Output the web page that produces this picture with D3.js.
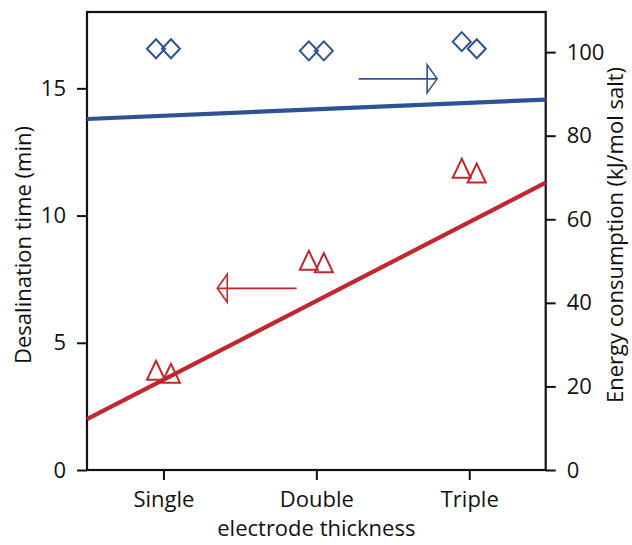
<!DOCTYPE html>
<html>
<head>
<meta charset="utf-8">
<script src="https://cdn.jsdelivr.net/npm/d3@7"></script>
<style>
  html, body { margin: 0; padding: 0; background: #fff; }
  svg { display: block; }
  text { font-family: "Open Sans", "Noto Sans", sans-serif; fill: #111; }
</style>
</head>
<body>
<svg id="chart" width="632" height="545"></svg>
<script>
// Electrode thickness categories
const categories = ["Single", "Double", "Triple"];

// Desalination time (min), two replicates per thickness — left axis
const timeRep1 = [3.92, 8.24, 11.86];
const timeRep2 = [3.80, 8.15, 11.67];

// Energy consumption (kJ/mol salt), two replicates per thickness — right axis
const energyRep1 = [100.8, 100.3, 102.5];
const energyRep2 = [100.8, 100.3, 100.8];

// Trend lines, value at each end of the category span (index -0.5 and 2.5)
const timeTrend = [2.0, 11.29];
const energyTrend = [84.0, 88.65];

// Tick values
const timeTicks = [0, 5, 10, 15];
const energyTicks = [0, 20, 40, 60, 80, 100];

// Arrow annotations pointing at the axis each series belongs to: [fromIndex, toIndex, value]
const timeArrow = [0.871, 0.352, 7.14];
const energyArrow = [1.277, 1.79, 93.6];

const blue = "#2d5394";
const red = "#c1272d";

const svg = d3.select("#chart");
const plotL = 87, plotR = 545.7, plotT = 12, plotB = 470;

const x = d3.scaleLinear().domain([-0.5, categories.length - 0.5]).range([plotL, plotR]);
const yTime = d3.scaleLinear().domain([0, 18]).range([plotB, plotT]);
const yEnergy = d3.scaleLinear().domain([0, 109.6]).range([plotB, plotT]);

const repOffset = 7.5; // horizontal spread of the two replicates (px)

// Axes
const fontSize = 22;
function styleAxis(g) {
  g.select(".domain").remove();
  g.selectAll(".tick line").attr("stroke", "#111").attr("stroke-width", 2);
  g.selectAll(".tick text").style("font-size", fontSize + "px");
}

svg.append("g")
  .attr("transform", `translate(${plotL},0)`)
  .call(d3.axisLeft(yTime).tickValues(timeTicks).tickSize(10).tickPadding(11))
  .call(styleAxis);

svg.append("g")
  .attr("transform", `translate(${plotR},0)`)
  .call(d3.axisRight(yEnergy).tickValues(energyTicks).tickSize(10).tickPadding(11))
  .call(styleAxis);

svg.append("g")
  .attr("transform", `translate(0,${plotB})`)
  .call(d3.axisBottom(x).tickValues(d3.range(categories.length))
    .tickFormat(i => categories[i]).tickSize(10).tickPadding(11))
  .call(styleAxis);

// Frame
svg.append("rect")
  .attr("x", plotL).attr("y", plotT)
  .attr("width", plotR - plotL).attr("height", plotB - plotT)
  .attr("fill", "none").attr("stroke", "#111").attr("stroke-width", 2.2);

// Trend lines
const xEnds = x.domain();
svg.append("line")
  .attr("x1", x(xEnds[0])).attr("y1", yEnergy(energyTrend[0]))
  .attr("x2", x(xEnds[1])).attr("y2", yEnergy(energyTrend[1]))
  .attr("stroke", blue).attr("stroke-width", 4.2);
svg.append("line")
  .attr("x1", x(xEnds[0])).attr("y1", yTime(timeTrend[0]))
  .attr("x2", x(xEnds[1])).attr("y2", yTime(timeTrend[1]))
  .attr("stroke", red).attr("stroke-width", 4.2);

// Markers
const mw = 18, mh = 19;
const diamond = `M0,${-mh/2}L${mw/2},0L0,${mh/2}L${-mw/2},0Z`;
const triangle = `M0,${-mh/2}L${mw/2},${mh/2}L${-mw/2},${mh/2}Z`;

function points(values, offset, yScale, path, color) {
  svg.append("g").selectAll("path")
    .data(values)
    .join("path")
    .attr("transform", (d, i) => `translate(${x(i) + offset},${yScale(d)})`)
    .attr("d", path)
    .attr("fill", "none")
    .attr("stroke", color)
    .attr("stroke-width", 2);
}
points(energyRep1, -repOffset, yEnergy, diamond, blue);
points(energyRep2, repOffset, yEnergy, diamond, blue);
points(timeRep1, -repOffset, yTime, triangle, red);
points(timeRep2, repOffset, yTime, triangle, red);

// Arrows with open triangular heads
function arrow(spec, yScale, color) {
  const [from, to, v] = spec;
  const x0 = x(from), x1 = x(to), yy = yScale(v);
  const dir = Math.sign(x1 - x0);
  const back = x1 - dir * 10, half = 14;
  const g = svg.append("g").attr("stroke", color).attr("stroke-width", 1.6).attr("fill", "none");
  g.append("line").attr("x1", x0).attr("y1", yy).attr("x2", x1).attr("y2", yy);
  g.append("path")
    .attr("d", `M${back},${yy - half}L${x1},${yy}L${back},${yy + half}Z`);
}
arrow(energyArrow, yEnergy, blue);
arrow(timeArrow, yTime, red);

// Axis titles
svg.append("text")
  .attr("transform", `translate(31,245) rotate(-90)`)
  .attr("text-anchor", "middle")
  .style("font-size", fontSize + "px")
  .text("Desalination time (min)");

svg.append("text")
  .attr("transform", `translate(623,235) rotate(-90)`)
  .attr("text-anchor", "middle")
  .style("font-size", fontSize + "px")
  .text("Energy consumption (kJ/mol salt)");

svg.append("text")
  .attr("x", (plotL + plotR) / 2).attr("y", 536)
  .attr("text-anchor", "middle")
  .style("font-size", fontSize + "px")
  .text("electrode thickness");
</script>
</body>
</html>
